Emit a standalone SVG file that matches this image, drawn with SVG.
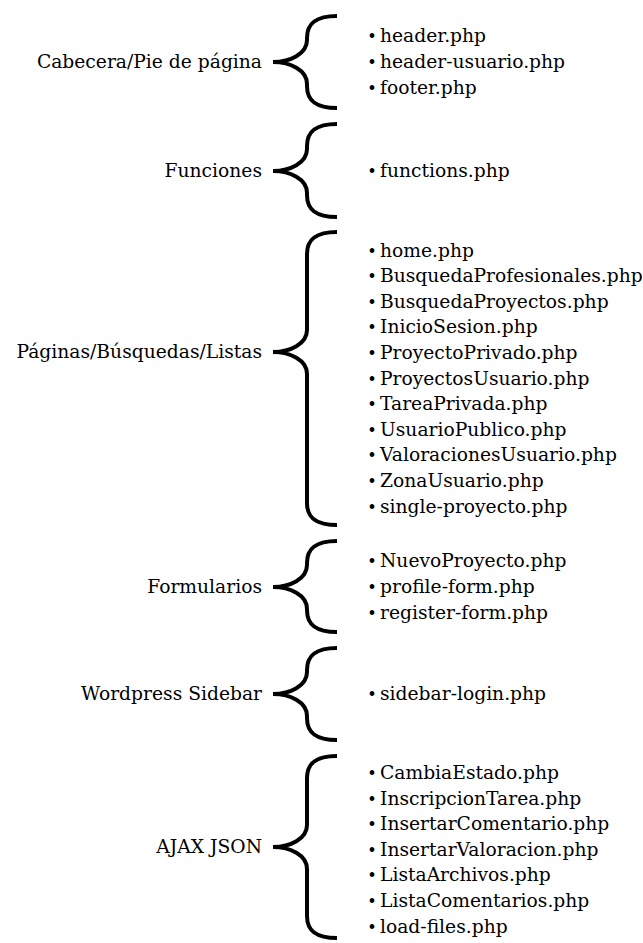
<svg xmlns="http://www.w3.org/2000/svg" width="643" height="943" viewBox="0 0 643 943">
<style>
text{font-family:"DejaVu Serif","Liberation Serif",serif;font-size:18.7px;fill:#000}
.lbl{text-anchor:end}
.b{font-size:16px;text-anchor:middle}
.br{fill:none;stroke:#000;stroke-width:4}
</style>
<rect width="643" height="943" fill="#fff"/>
<g id="connectors">
<path class="br" d="M337,16 C315,16 307,24 307,38 L307,40 C307,54 290,62 273,62 C290,62 307,70 307,84 L307,86 C307,100 315,108 337,108"/>
<path class="br" d="M337,124 C315,124 307,132 307,146 L307,149 C307,163 290,171 273,171 C290,171 307,179 307,193 L307,195 C307,209 315,217 337,217"/>
<path class="br" d="M337,232 C315,232 307,240 307,254 L307,330 C307,344 290,352 273,352 C290,352 307,360 307,374 L307,503 C307,517 315,525 337,525"/>
<path class="br" d="M337,541 C315,541 307,549 307,563 L307,565 C307,579 290,587 273,587 C290,587 307,595 307,609 L307,610 C307,624 315,632 337,632"/>
<path class="br" d="M337,648 C315,648 307,656 307,670 L307,672 C307,686 290,694 273,694 C290,694 307,702 307,716 L307,718 C307,732 315,740 337,740"/>
<path class="br" d="M337,756 C315,756 307,764 307,778 L307,825 C307,839 290,847 273,847 C290,847 307,855 307,869 L307,916 C307,930 315,938 337,938"/>
</g>
<g id="cabecera">
<text class="lbl" x="262" y="68">Cabecera/Pie de página</text>
<text y="42.4"><tspan class="b" x="372">•</tspan><tspan x="380">header.php</tspan></text>
<text y="68"><tspan class="b" x="372">•</tspan><tspan x="380">header-usuario.php</tspan></text>
<text y="93.6"><tspan class="b" x="372">•</tspan><tspan x="380">footer.php</tspan></text>
</g>
<g id="funciones">
<text class="lbl" x="262" y="177">Funciones</text>
<text y="177"><tspan class="b" x="372">•</tspan><tspan x="380">functions.php</tspan></text>
</g>
<g id="paginas">
<text class="lbl" x="262" y="358">Páginas/Búsquedas/Listas</text>
<text y="256.5"><tspan class="b" x="372">•</tspan><tspan x="380">home.php</tspan></text>
<text y="282.1"><tspan class="b" x="372">•</tspan><tspan x="380">BusquedaProfesionales.php</tspan></text>
<text y="307.7"><tspan class="b" x="372">•</tspan><tspan x="380">BusquedaProyectos.php</tspan></text>
<text y="333.3"><tspan class="b" x="372">•</tspan><tspan x="380">InicioSesion.php</tspan></text>
<text y="358.9"><tspan class="b" x="372">•</tspan><tspan x="380">ProyectoPrivado.php</tspan></text>
<text y="384.5"><tspan class="b" x="372">•</tspan><tspan x="380">ProyectosUsuario.php</tspan></text>
<text y="410.1"><tspan class="b" x="372">•</tspan><tspan x="380">TareaPrivada.php</tspan></text>
<text y="435.7"><tspan class="b" x="372">•</tspan><tspan x="380">UsuarioPublico.php</tspan></text>
<text y="461.3"><tspan class="b" x="372">•</tspan><tspan x="380">ValoracionesUsuario.php</tspan></text>
<text y="486.9"><tspan class="b" x="372">•</tspan><tspan x="380">ZonaUsuario.php</tspan></text>
<text y="512.5"><tspan class="b" x="372">•</tspan><tspan x="380">single-proyecto.php</tspan></text>
</g>
<g id="formularios">
<text class="lbl" x="262" y="593">Formularios</text>
<text y="567.4"><tspan class="b" x="372">•</tspan><tspan x="380">NuevoProyecto.php</tspan></text>
<text y="593"><tspan class="b" x="372">•</tspan><tspan x="380">profile-form.php</tspan></text>
<text y="618.6"><tspan class="b" x="372">•</tspan><tspan x="380">register-form.php</tspan></text>
</g>
<g id="sidebar">
<text class="lbl" x="262" y="700">Wordpress Sidebar</text>
<text y="700"><tspan class="b" x="372">•</tspan><tspan x="380">sidebar-login.php</tspan></text>
</g>
<g id="ajax">
<text class="lbl" x="262" y="853">AJAX JSON</text>
<text y="779"><tspan class="b" x="372">•</tspan><tspan x="380">CambiaEstado.php</tspan></text>
<text y="804.6"><tspan class="b" x="372">•</tspan><tspan x="380">InscripcionTarea.php</tspan></text>
<text y="830.2"><tspan class="b" x="372">•</tspan><tspan x="380">InsertarComentario.php</tspan></text>
<text y="855.8"><tspan class="b" x="372">•</tspan><tspan x="380">InsertarValoracion.php</tspan></text>
<text y="881.4"><tspan class="b" x="372">•</tspan><tspan x="380">ListaArchivos.php</tspan></text>
<text y="907"><tspan class="b" x="372">•</tspan><tspan x="380">ListaComentarios.php</tspan></text>
<text y="932.6"><tspan class="b" x="372">•</tspan><tspan x="380">load-files.php</tspan></text>
</g>
</svg>
